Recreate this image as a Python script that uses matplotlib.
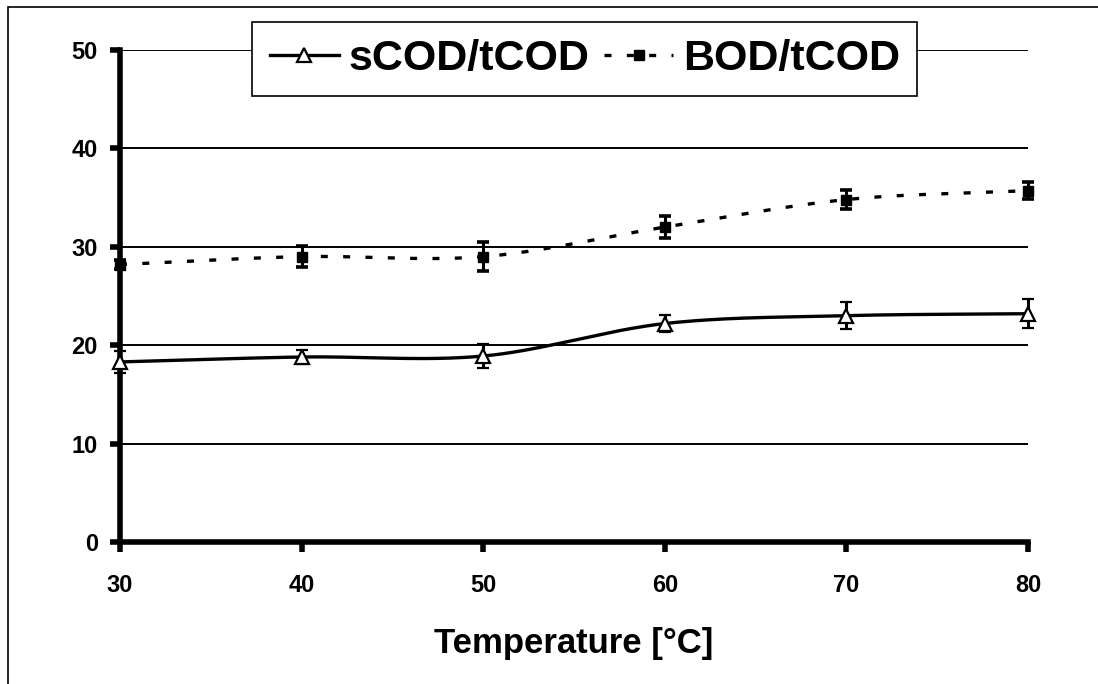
import numpy as np
import matplotlib
matplotlib.use("Agg")
import matplotlib.pyplot as plt
from matplotlib.patches import Rectangle
from matplotlib.lines import Line2D

plt.rcParams['font.family'] = ['Liberation Sans', 'DejaVu Sans']
plt.rcParams['font.weight'] = 'bold'

temperature = [30, 40, 50, 60, 70, 80]
scod_tcod = [18.3, 18.8, 18.9, 22.2, 23.0, 23.2]
scod_err = [1.1, 0.7, 1.2, 0.9, 1.35, 1.5]
bod_tcod = [28.2, 29.0, 29.0, 32.0, 34.8, 35.7]
bod_err = [0.5, 1.1, 1.5, 1.1, 0.95, 0.85]
yticks = [0, 10, 20, 30, 40, 50]
xlabel = "Temperature [°C]"
labels = ["sCOD/tCOD", "BOD/tCOD"]


def smooth(x, y, n=40):
    # spreadsheet-like "smoothed line" (Bezier through the points)
    x = np.asarray(x, float); y = np.asarray(y, float)
    px = np.concatenate([[2 * x[0] - x[1]], x, [2 * x[-1] - x[-2]]])
    py = np.concatenate([[2 * y[0] - y[1]], y, [2 * y[-1] - y[-2]]])
    xs, ys = [], []
    t = np.linspace(0, 1, n)
    for i in range(1, len(px) - 2):
        p0, p1, p2, p3 = (np.array([px[j], py[j]]) for j in range(i - 1, i + 3))
        c1 = p1 + (p2 - p0) / 6
        c2 = p2 - (p3 - p1) / 6
        b = ((1 - t) ** 3)[:, None] * p1 + (3 * (1 - t) ** 2 * t)[:, None] * c1 \
            + (3 * (1 - t) * t ** 2)[:, None] * c2 + (t ** 3)[:, None] * p2
        xs.extend(b[:, 0]); ys.extend(b[:, 1])
    return np.array(xs), np.array(ys)


fig = plt.figure(figsize=(10.98, 6.84), dpi=100)
ax = fig.add_axes([120 / 1098, 1 - 542 / 684, (1028 - 120) / 1098, (542 - 50) / 684])

# outer frame
fig.patches.append(Rectangle((8 / 1098, -0.05), 1.1, 1 - 7 / 684 + 0.05, transform=fig.transFigure,
                             fill=False, edgecolor='black', linewidth=1.2, zorder=0))

for yv in yticks[1:]:
    ax.axhline(yv, color='black', linewidth=1.4, zorder=1)

dash = (0, (2.1, 4.6))
sx, sy = smooth(temperature, scod_tcod)
ax.plot(sx, sy, color='black', linewidth=2.4, zorder=3, clip_on=False)
bx, by = smooth(temperature, bod_tcod)
ax.plot(bx, by, color='black', linewidth=2.4, linestyle=dash, zorder=3, clip_on=False)

ax.errorbar(temperature, scod_tcod, yerr=scod_err, fmt='^', markersize=10,
            markerfacecolor='white', markeredgecolor='black', markeredgewidth=1.6,
            ecolor='black', elinewidth=2.2, capsize=4.5, capthick=2.6, zorder=4, clip_on=False)
ax.errorbar(temperature, bod_tcod, yerr=bod_err, fmt='s', markersize=7,
            markerfacecolor='black', markeredgecolor='black',
            ecolor='black', elinewidth=2.2, capsize=4.5, capthick=2.6, zorder=4, clip_on=False)

ax.set_xlim(30, 80)
ax.set_ylim(0, 50)
ax.set_yticks(yticks)
ax.set_xticks(temperature)
ax.spines['top'].set_visible(False)
ax.spines['right'].set_visible(False)
ax.spines['left'].set_linewidth(4)
ax.spines['bottom'].set_linewidth(4)
ax.tick_params(axis='both', direction='out', length=7, width=4, labelsize=17)
ax.tick_params(axis='x', pad=16)
ax.tick_params(axis='y', pad=9)
for lab in ax.get_xticklabels() + ax.get_yticklabels():
    lab.set_fontweight('bold')
ax.set_xlabel(xlabel, fontsize=25, fontweight='bold', labelpad=22)

h1 = Line2D([], [], color='black', linewidth=2.4, marker='^', markersize=10,
            markerfacecolor='white', markeredgewidth=1.6)
h2 = Line2D([], [], color='black', linewidth=2.4, linestyle=dash, marker='s',
            markersize=7, markerfacecolor='black')
leg = ax.legend([h1, h2], labels, loc='upper center', bbox_to_anchor=(0.512, 1.057), ncol=2,
                frameon=True, fancybox=False, edgecolor='black', framealpha=1,
                prop={'size': 31, 'weight': 'bold'},
                handlelength=1.6, handletextpad=0.23,
                columnspacing=0.35, borderpad=0.4, borderaxespad=0)
leg.get_frame().set_linewidth(1.2)
leg.set_zorder(10)

fig.savefig("out.png", dpi=100)
